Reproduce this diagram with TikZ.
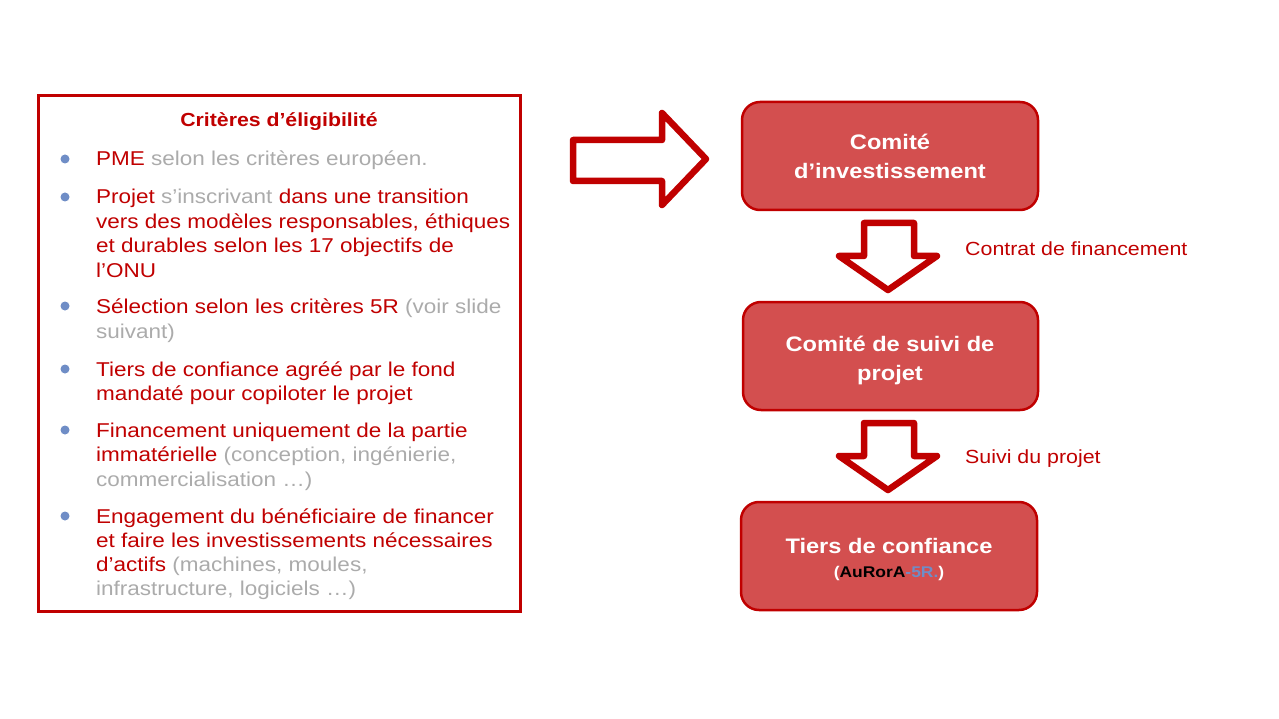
\documentclass[tikz,border=0pt]{standalone}
\usepackage{fontspec}
\setmainfont{Liberation Sans}[FakeStretch=1.125]
\definecolor{dred}{HTML}{C00000}
\definecolor{boxfill}{HTML}{D34F4F}
\definecolor{lgray}{HTML}{ABABAB}
\definecolor{bblue}{HTML}{6F8DC6}
\begin{document}
\begin{tikzpicture}[x=1pt,y=-1pt,
  line/.style={anchor=base west,inner sep=0pt,font=\fontsize{20}{24}\selectfont,text=dred},
  bul/.style={circle,fill=bblue,inner sep=0pt,minimum size=9pt},
  stepbox/.style={draw=dred,line width=2.5pt,fill=boxfill,rounded corners=18pt},
  btxt/.style={anchor=base,inner sep=0pt,text=white,font=\bfseries\fontsize{21}{25}\selectfont},
  arr/.style={draw=dred,line width=6.5pt,line join=round},
  lab/.style={anchor=base west,inner sep=0pt,text=dred,font=\fontsize{19}{23}\selectfont}]
\useasboundingbox (0,0) rectangle (1279,719);
% left frame
\draw[dred,line width=3pt] (38,96) rectangle (520,611);
\node[anchor=base,inner sep=0pt,text=dred,font=\bfseries\fontsize{18.9}{23}\selectfont] (title) at (279,127) {Critères d’éligibilité};
% bullets
\foreach \y/\n in {166/b1,204/b2,313/b3,376/b4,437/b5,523/b6}{
  \node[bul] (\n) at (65,\y-7) {};
}
\node[line] (l1) at (96,166) {PME \textcolor{lgray}{selon les critères européen.}};
\node[line] (l2a) at (96,204) {Projet \textcolor{lgray}{s’inscrivant} dans une transition};
\node[line] (l2b) at (96,228.3) {vers des modèles responsables, éthiques};
\node[line] (l2c) at (96,252.6) {et durables selon les 17 objectifs de};
\node[line] (l2d) at (96,277) {l’ONU};
\node[line] (l3a) at (96,313.3) {Sélection selon les critères 5R \textcolor{lgray}{(voir slide}};
\node[line,text=lgray] (l3b) at (96,338) {suivant)};
\node[line] (l4a) at (96,376) {Tiers de confiance agréé par le fond};
\node[line] (l4b) at (96,400) {mandaté pour copiloter le projet};
\node[line] (l5a) at (96,437) {Financement uniquement de la partie};
\node[line] (l5b) at (96,461.5) {immatérielle \textcolor{lgray}{(conception, ingénierie,}};
\node[line,text=lgray] (l5c) at (96,486) {commercialisation …)};
\node[line] (l6a) at (96,523) {Engagement du bénéficiaire de financer};
\node[line] (l6b) at (96,547.5) {et faire les investissements nécessaires};
\node[line] (l6c) at (96,571.7) {d’actifs \textcolor{lgray}{(machines, moules,}};
\node[line,text=lgray] (l6d) at (96,595.5) {infrastructure, logiciels …)};
% big right arrow
\draw[arr] (573,140) -- (662,140) -- (662,113) -- (706,159) -- (662,205) -- (662,181) -- (573,181) -- cycle;
% boxes
\draw[stepbox] (742,102) rectangle (1038,210);
\draw[stepbox] (743,302) rectangle (1038,410);
\draw[stepbox] (741,502) rectangle (1037,610);
\node[btxt] (c1a) at (890,150) {Comité};
\node[btxt] (c1b) at (890,178.5) {d’investissement};
\node[btxt] (c2a) at (890,351) {Comité de suivi de};
\node[btxt] (c2b) at (890,380) {projet};
\node[btxt] (c3a) at (889,553) {Tiers de confiance};
\node[anchor=base,inner sep=0pt,text=white,font=\bfseries\fontsize{15.5}{18}\selectfont] (c3b) at (889,577) {(\textcolor{black}{AuRorA}\textcolor{bblue}{-5R.})};
% down arrows
\foreach \dy in {0,200}{
  \draw[arr] (864,223+\dy) -- (914,223+\dy) -- (914,256+\dy) -- (937,256+\dy) -- (888,290+\dy) -- (839,256+\dy) -- (864,256+\dy) -- cycle;
}
\node[lab] (t1) at (965,256) {Contrat de financement};
\node[lab] (t2) at (965,463) {Suivi du projet};
\end{tikzpicture}
\end{document}
